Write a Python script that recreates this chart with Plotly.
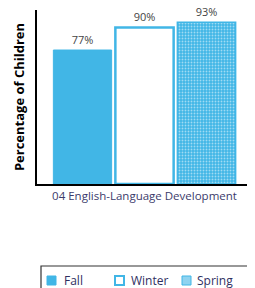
import plotly.graph_objects as go

category = ["04 English-Language Development"]
seasons = ["Fall", "Winter", "Spring"]
values = [77, 90, 93]
labels = ["77%", "90%", "93%"]

blue = "#41b6e6"
W, H = 247, 280
ML, MR, MT, MB = 29, 3, 2, 104
OFF = 8  # page body offset
PW, PH = W - ML - MR, H - MT - MB

def px(x):  # page x -> paper
    return (x - OFF - ML) / PW

def py(y):  # page y -> paper
    return (H - MB + OFF - y) / PH

fig = go.Figure()
fig.add_trace(go.Bar(name=seasons[0], x=category, y=[values[0]], text=[labels[0]],
                     marker=dict(color=blue, line=dict(color=blue, width=1))))
fig.add_trace(go.Bar(name=seasons[1], x=category, y=[values[1]], text=[labels[1]],
                     marker=dict(color="white", line=dict(color=blue, width=2.5))))
fig.add_trace(go.Bar(name=seasons[2], x=category, y=[values[2]], text=[labels[2]],
                     marker=dict(color=blue, line=dict(color=blue, width=1.5),
                                 pattern=dict(shape=".", fgcolor="white", bgcolor=blue,
                                              size=3, solidity=0.3, fillmode="overlay"))))

fig.update_traces(textposition="outside", cliponaxis=False,
                  textfont=dict(family="Open Sans", size=11, color="#444444"))

# manual legend (box, swatches, labels)
shapes = [dict(type="rect", xref="paper", yref="paper", x0=px(41), x1=px(248.5),
               y0=py(266), y1=py(310), line=dict(color="#333333", width=1.2),
               fillcolor="rgba(0,0,0,0)")]
sw_x = [47, 115, 182]
txt_x = [62, 129, 195]
sw_styles = [dict(fillcolor=blue, line=dict(color=blue, width=1)),
             dict(fillcolor="white", line=dict(color=blue, width=2)),
             dict(fillcolor="#8fd3f0", line=dict(color=blue, width=1))]
annotations = []
for name, sx, tx, st in zip(seasons, sw_x, txt_x, sw_styles):
    shapes.append(dict(type="rect", xref="paper", yref="paper", x0=px(sx), x1=px(sx + 9),
                       y0=py(285), y1=py(276), **st))
    annotations.append(dict(text=name, xref="paper", yref="paper", x=px(tx), y=py(280),
                            xanchor="left", yanchor="middle", showarrow=False,
                            font=dict(family="Open Sans", size=12, color="#2f2f5f")))

fig.update_layout(
    width=W, height=H,
    margin=dict(l=ML, r=MR, t=MT, b=MB, autoexpand=False),
    paper_bgcolor="white", plot_bgcolor="white",
    barmode="group", bargap=0.135, bargroupgap=0.06,
    showlegend=False,
    shapes=shapes, annotations=annotations,
    font=dict(family="Open Sans"),
)
fig.update_yaxes(range=[0, 100], showticklabels=False, ticks="", showgrid=False,
                 showline=True, linecolor="black", linewidth=1.5, zeroline=False,
                 automargin=False,
                 title=dict(text="<b>Percentage of Children</b>", standoff=8,
                            font=dict(family="Open Sans", size=13, color="black")))
fig.update_xaxes(showline=True, linecolor="black", linewidth=1.5, ticks="",
                 automargin=False,
                 tickfont=dict(family="Open Sans", size=11.5, color="#3b3b6b"))

fig.write_html("out.html")
